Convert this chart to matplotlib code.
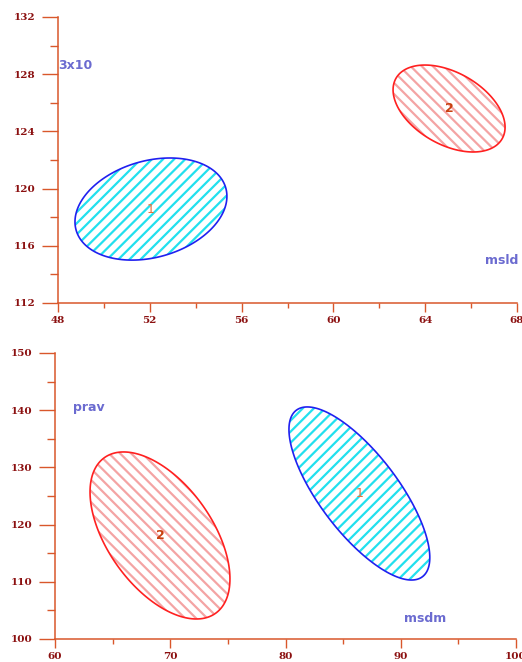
import numpy as np
import matplotlib
matplotlib.use("Agg")
import matplotlib.pyplot as plt
from matplotlib.patches import Polygon
from matplotlib.ticker import MultipleLocator

# group ellipses: centre x, centre y, half-range x, half-range y, correlation
top_groups = ["1", "2"]
top_cx = [52.05, 65.04]
top_cy = [118.57, 125.6]
top_ax = [3.31, 2.44]
top_ay = [3.57, 3.04]
top_rho = [0.25, -0.43]

bot_groups = ["1", "2"]
bot_cx = [86.41, 69.11]
bot_cy = [125.44, 118.1]
bot_ax = [6.11, 6.07]
bot_ay = [15.13, 14.6]
bot_rho = [-0.74, -0.52]

top_xlim = (48, 68)
top_ylim = (112, 132)
bot_xlim = (60, 100)
bot_ylim = (100, 150)

AXC = '#D9572B'
TICKC = '#8B1010'
NAMEC = '#6B6BD0'
plt.rcParams['hatch.linewidth'] = 1.6

# hatch colour, outline colour, hatch pattern, label colour, label weight
styles = {"1": ('#22E0EE', '#2020F0', '///', '#E8703A', 'normal'),
          "2": ('#F4A4A4', '#FF2020', '\\\\\\', '#C84010', 'bold')}


def ellipse_xy(cx, cy, a, b, rho, n=200):
    t = np.linspace(0, 2 * np.pi, n)
    x = cx + a * np.cos(t)
    y = cy + b * (rho * np.cos(t) + np.sqrt(1 - rho ** 2) * np.sin(t))
    return np.column_stack([x, y])


def draw_groups(ax, groups, cx, cy, a, b, rho):
    for g, x0, y0, aa, bb, r in zip(groups, cx, cy, a, b, rho):
        hc, ec, hatch, tc, tw = styles[g]
        pts = ellipse_xy(x0, y0, aa, bb, r)
        ax.add_patch(Polygon(pts, closed=True, facecolor='white', edgecolor=hc,
                             hatch=hatch, linewidth=0))
        ax.add_patch(Polygon(pts, closed=True, fill=False, edgecolor=ec, linewidth=1.2))
        ax.text(x0, y0, g, color=tc, fontsize=9, fontweight=tw, ha='center', va='center')


def style_axes(ax, xlim, ylim, xmaj, ymaj):
    ax.set_xlim(*xlim)
    ax.set_ylim(*ylim)
    for s in ['top', 'right']:
        ax.spines[s].set_visible(False)
    for s in ['left', 'bottom']:
        ax.spines[s].set_color(AXC)
        ax.spines[s].set_linewidth(1.1)
    ax.xaxis.set_major_locator(MultipleLocator(xmaj))
    ax.xaxis.set_minor_locator(MultipleLocator(xmaj / 2))
    ax.yaxis.set_major_locator(MultipleLocator(ymaj))
    ax.yaxis.set_minor_locator(MultipleLocator(ymaj / 2))
    ax.tick_params(axis='x', which='major', length=6.5, width=1, color=AXC, pad=3,
                   labelcolor=TICKC, direction='out')
    ax.tick_params(axis='x', which='minor', length=3.6, width=1, color=AXC, direction='out')
    ax.tick_params(axis='y', which='major', length=11.5, width=1, color=AXC, pad=5,
                   labelcolor=TICKC, direction='out')
    ax.tick_params(axis='y', which='minor', length=5.8, width=1, color=AXC, direction='out')
    for lab in ax.get_xticklabels() + ax.get_yticklabels():
        lab.set_family('DejaVu Serif')
        lab.set_fontweight('bold')
        lab.set_fontsize(7.5)


fig = plt.figure(figsize=(5.22, 6.62), dpi=100)
ax1 = fig.add_axes([58 / 522, 1 - 303 / 662, 459 / 522, 286 / 662])
ax2 = fig.add_axes([55 / 522, 1 - 639 / 662, 461 / 522, 286 / 662])

draw_groups(ax1, top_groups, top_cx, top_cy, top_ax, top_ay, top_rho)
draw_groups(ax2, bot_groups, bot_cx, bot_cy, bot_ax, bot_ay, bot_rho)

style_axes(ax1, top_xlim, top_ylim, 4, 4)
style_axes(ax2, bot_xlim, bot_ylim, 10, 10)

nm = dict(color=NAMEC, fontsize=9, fontweight='bold', family='DejaVu Sans',
          va='center', ha='left', clip_on=False)
ax1.text(48.0, 128.64, '3x10', **nm)
ax1.text(66.6, 115.0, 'msld', **nm)
ax2.text(61.56, 140.4, 'prav', **nm)
ax2.text(90.27, 103.5, 'msdm', **nm)

fig.savefig('out.png', dpi=100)
